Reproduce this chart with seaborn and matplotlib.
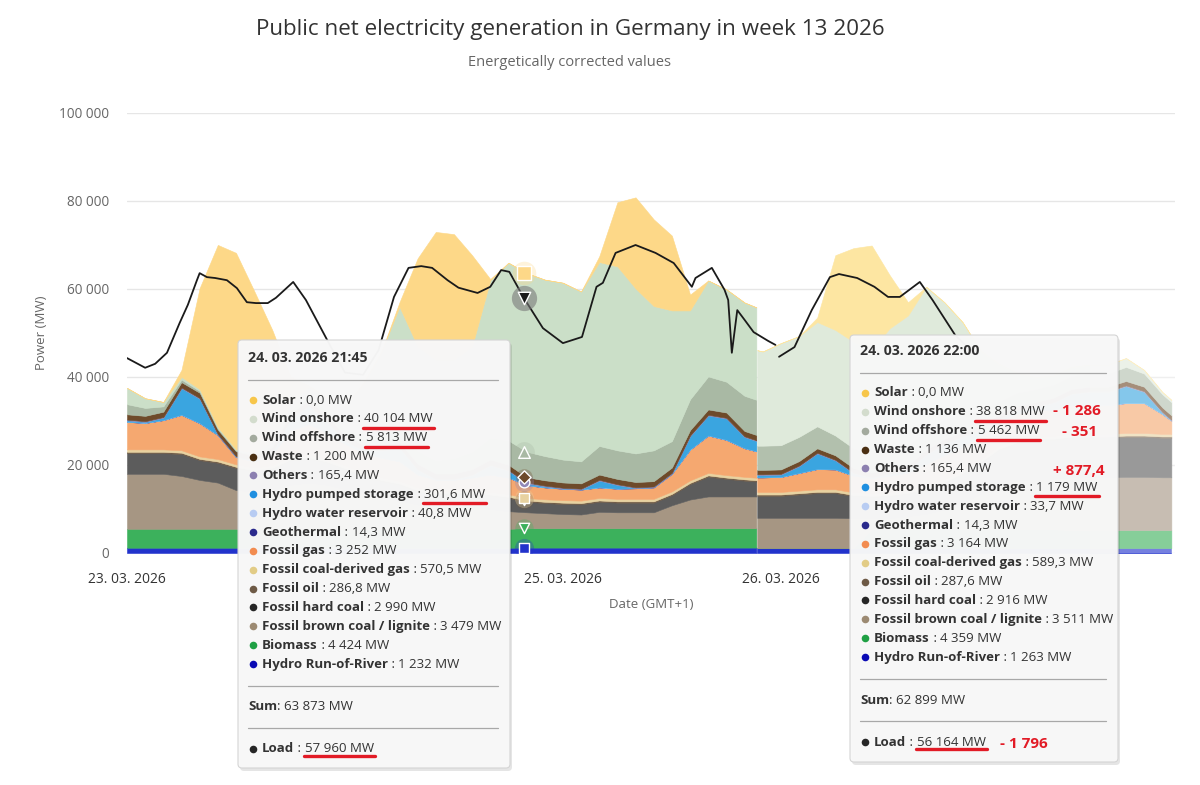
import numpy as np
import pandas as pd
import matplotlib
matplotlib.use("Agg")
import matplotlib.pyplot as plt
import seaborn as sns
from matplotlib.patches import FancyBboxPatch
from matplotlib.ticker import FuncFormatter

# Public net electricity generation in Germany, week 13 2026
# values in MW, hours counted from 23.03. 00:00
# the picture is two screenshots glued together -> part A and part B

##### part A (left screenshot)
hours_a = [0, 2, 4, 6, 8, 10, 12, 14, 16, 18, 20, 22, 24, 26, 28, 30, 32, 34,
           36, 38, 40, 42, 44, 46, 48, 50, 52, 54, 56, 58, 60, 62, 64, 66, 68, 69.3]
ror_a = [1200, 1200, 1200, 1200, 1200, 1200, 1200, 1200, 1200, 1200, 1200, 1200,
         1200, 1200, 1200, 1200, 1200, 1200, 1200, 1200, 1200, 1200, 1230, 1230,
         1230, 1230, 1230, 1230, 1230, 1230, 1230, 1230, 1230, 1230, 1230, 1230]
bio_a = [4300, 4300, 4300, 4300, 4300, 4300, 4300, 4300, 4300, 4300, 4300, 4300,
         4300, 4300, 4300, 4300, 4300, 4300, 4300, 4300, 4300, 4300, 4420, 4420,
         4420, 4420, 4420, 4420, 4420, 4420, 4420, 4420, 4420, 4420, 4420, 4420]
lig_a = [12500, 12500, 12500, 12000, 11100, 10500, 8800, 8500, 8800, 10000, 10500, 10000,
         9000, 8000, 7000, 6500, 5500, 5000, 5000, 5000, 4500, 4000, 3600, 3400,
         3200, 3100, 3700, 3600, 3600, 3600, 5200, 6500, 7200, 7200, 7200, 7200]
hc_a = [4700, 4700, 4700, 5000, 4500, 4500, 5000, 4500, 4800, 5500, 5500, 5000,
        4500, 4000, 3800, 3500, 3000, 2800, 2800, 2800, 3000, 3000, 2400, 2300,
        2300, 2300, 2300, 2200, 2200, 2200, 2300, 3500, 4500, 4000, 3600, 3400]
oil_a = [290, 290, 290, 290, 290, 290, 290, 290, 290, 290, 290, 290,
         290, 290, 290, 290, 290, 290, 290, 290, 290, 290, 287, 287,
         287, 287, 287, 287, 287, 287, 287, 287, 287, 287, 287, 287]
cgas_a = [560, 560, 560, 560, 560, 560, 560, 560, 560, 560, 560, 560,
          560, 560, 560, 560, 560, 560, 560, 560, 560, 560, 570, 570,
          570, 570, 570, 570, 570, 570, 570, 570, 570, 570, 570, 570]
gas_a = [6250, 6000, 6650, 8050, 7550, 5450, 1650, 1500, 2500, 6000, 7000, 6000,
         5000, 4500, 4500, 4500, 3000, 2500, 2500, 3000, 4000, 3800, 2900, 2700,
         2600, 2500, 2400, 2300, 2400, 2600, 4000, 7000, 8500, 8000, 6500, 6000]
geo_a = [14, 14, 14, 14, 14, 14, 14, 14, 14, 14, 14, 14,
         14, 14, 14, 14, 14, 14, 14, 14, 14, 14, 14, 14,
         14, 14, 14, 14, 14, 14, 14, 14, 14, 14, 14, 14]
res_a = [40, 40, 40, 40, 40, 40, 40, 40, 40, 40, 40, 40,
         40, 40, 40, 40, 40, 40, 40, 40, 40, 40, 41, 41,
         41, 41, 41, 41, 41, 41, 41, 41, 41, 41, 41, 41]
ps_a = [300, 200, 500, 6000, 5500, 0, 0, 0, 300, 2500, 4000, 2500,
        500, 300, 1500, 3000, 1000, 0, 0, 500, 2000, 1500, 400, 200,
        0, 0, 1500, 800, 0, 0, 0, 3000, 4500, 4800, 2500, 2300]
oth_a = [165, 165, 165, 165, 165, 165, 165, 165, 165, 165, 165, 165,
         165, 165, 165, 165, 165, 165, 165, 165, 165, 165, 165, 165,
         165, 165, 165, 165, 165, 165, 165, 165, 165, 165, 165, 165]
waste_a = [1200, 1200, 1200, 1200, 1200, 1000, 1100, 1100, 1100, 1200, 1200, 1200,
           1200, 1200, 1200, 1200, 1200, 1200, 1200, 1200, 1200, 1200, 1200, 1200,
           1200, 1200, 1200, 1200, 1200, 1200, 1200, 1200, 1200, 1200, 1200, 1200]
off_a = [2300, 1800, 1200, 600, 400, 300, 200, 300, 500, 800, 1000, 1200,
         1500, 2000, 2500, 3000, 3000, 3000, 3500, 4000, 5000, 5500, 5800, 5500,
         5200, 5000, 6500, 6500, 6500, 7000, 6000, 7000, 7500, 7000, 8000, 8000]
on_a = [3700, 2200, 1000, 600, 400, 300, 200, 400, 800, 1500, 2000, 3000,
        5000, 12000, 18600, 27700, 23700, 22900, 22400, 23900, 35700, 40400, 40600, 40100,
        40200, 38600, 41800, 41800, 37500, 32800, 29700, 20200, 21800, 21000, 21200, 21000]
solar_a = [0, 0, 0, 1600, 23000, 41400, 44700, 36700, 25300, 6000, 300, 0,
           0, 0, 0, 1000, 20000, 29000, 28500, 20700, 300, 0, 0, 0,
           0, 0, 1300, 14600, 20700, 19700, 17000, 3600, 0, 0, 0, 0]

##### part B (second screenshot, pasted in from 25.03. evening)
hours_b = [69.4, 70, 72, 74, 76, 78, 80, 82, 84, 86, 88, 90, 92,
           94, 96, 98, 100, 102, 104, 106, 108, 110, 112, 114, 115]
ror_b = [1100, 1100, 1100, 1100, 1100, 1100, 1100, 1100, 1100, 1100, 1100, 1100, 1100,
         1100, 1100, 1100, 1100, 1100, 1100, 1100, 1100, 1100, 1100, 1100, 1100]
bio_b = [0, 0, 0, 0, 0, 0, 0, 4300, 4300, 4300, 4300, 4300, 4300,
         4300, 4300, 4300, 4300, 4300, 4100, 4100, 4100, 4100, 4100, 4100, 4100]
lig_b = [6900, 6900, 6900, 6900, 6900, 6900, 6800, 2500, 2500, 3000, 3500, 4500, 6000,
         8000, 10000, 11000, 11500, 11500, 12000, 12000, 12000, 12100, 12100, 12000, 12000]
hc_b = [5000, 5000, 5000, 5300, 5600, 5600, 5000, 4800, 5000, 5000, 5500, 6000, 6500,
        7000, 8000, 8500, 8800, 8800, 9000, 9000, 9000, 9100, 9100, 9000, 9000]
oil_b = [288, 288, 288, 288, 288, 288, 288, 288, 288, 288, 288, 288, 288,
         288, 288, 288, 288, 288, 288, 288, 288, 288, 288, 288, 288]
cgas_b = [589, 589, 589, 589, 589, 589, 589, 589, 589, 589, 589, 589, 589,
          589, 589, 589, 589, 589, 589, 589, 589, 589, 589, 589, 589]
gas_b = [3300, 3300, 3400, 4000, 4600, 4500, 3800, 3500, 3800, 4000, 5000, 5500, 5500,
         5500, 5500, 6000, 6000, 6000, 6500, 6500, 6500, 6800, 6800, 4500, 3000]
geo_b = [14, 14, 14, 14, 14, 14, 14, 14, 14, 14, 14, 14, 14,
         14, 14, 14, 14, 14, 14, 14, 14, 14, 14, 14, 14]
res_b = [34, 34, 34, 34, 34, 34, 34, 34, 34, 34, 34, 34, 34,
         34, 34, 34, 34, 34, 34, 34, 34, 34, 34, 34, 34]
ps_b = [500, 500, 500, 1500, 3500, 2000, 500, 0, 300, 500, 2000, 2500, 2000,
        1000, 500, 500, 500, 1500, 2500, 3000, 3000, 3800, 2500, 300, 0]
oth_b = [165, 165, 165, 165, 165, 165, 165, 165, 165, 165, 165, 165, 165,
         165, 165, 165, 165, 165, 165, 165, 165, 165, 165, 165, 165]
waste_b = [1000, 1000, 1000, 1000, 1000, 1000, 1000, 1000, 1000, 1000, 1000, 1000, 1000,
           1000, 1000, 1000, 1000, 1000, 1000, 1000, 1000, 1000, 1000, 1000, 1000]
off_b = [5500, 5500, 5500, 5500, 5000, 4500, 4500, 4500, 4500, 4500, 4500, 4500, 4000,
         3500, 3000, 3000, 3000, 3000, 3000, 3000, 3000, 3200, 3000, 3000, 3000]
on_b = [21700, 21400, 23200, 22900, 23700, 24000, 24200, 23500, 27500, 29500, 32500, 26500, 21000,
        13500, 8500, 4500, 2700, 2000, 2000, 2000, 2000, 2000, 800, 500, 500]
solar_b = [0, 0, 0, 0, 1000, 17000, 21300, 23600, 12000, 3000, 0, 0, 0,
           0, 0, 0, 0, 0, 0, 0, 0, 0, 0, 0, 0]

##### load (two pieces, there is a gap in the picture)
load_hours_a = [0, 2, 3.1, 4.4, 5.8, 6.7, 7.7, 8.0, 8.8, 9.7, 11.0, 12.1, 13.2, 14.2,
                15.5, 16.4, 18.3, 19.7, 22.2, 24, 26, 27.7, 29.4, 31.0, 32.4, 33.6,
                35.3, 36.5, 38.6, 40.0, 41.2, 42.1, 43.7, 45.8, 48.0, 50.1, 51.7,
                52.4, 53.8, 56.0, 58.2, 60.2, 62.2, 62.6, 64.4, 65.8, 66.2, 66.6,
                67.2, 68.0, 69.0, 70.6, 71.4]
load_mw_a = [44300, 42100, 43000, 45500, 52300, 56400, 62000, 63600, 62700, 62500,
             62000, 60200, 57000, 56800, 56800, 58000, 61600, 57500, 47800, 41000,
             40500, 46100, 58200, 64800, 65200, 64800, 62000, 60300, 59100, 60500,
             64300, 63900, 57960, 51100, 47700, 49100, 60500, 61400, 68200, 70000,
             68200, 65900, 60500, 62500, 64800, 59800, 57500, 45500, 55200, 53000,
             50200, 48200, 47300]
load_hours_b = [71.8, 73.5, 75.4, 77.4, 78.4, 80.4, 82.3, 83.8, 85.1, 87.3, 88.7, 91.2, 93.4]
load_mw_b = [44600, 46800, 55200, 62700, 63400, 62500, 60500, 58200, 58200, 61600,
             57500, 49500, 45000]

##### tooltip texts
names = ["Solar", "Wind onshore", "Wind offshore", "Waste", "Others",
         "Hydro pumped storage", "Hydro water reservoir", "Geothermal", "Fossil gas",
         "Fossil coal-derived gas", "Fossil oil", "Fossil hard coal",
         "Fossil brown coal / lignite", "Biomass", "Hydro Run-of-River"]
tip1_values = ["0,0 MW", "40 104 MW", "5 813 MW", "1 200 MW", "165,4 MW", "301,6 MW",
               "40,8 MW", "14,3 MW", "3 252 MW", "570,5 MW", "286,8 MW", "2 990 MW",
               "3 479 MW", "4 424 MW", "1 232 MW"]
tip2_values = ["0,0 MW", "38 818 MW", "5 462 MW", "1 136 MW", "165,4 MW", "1 179 MW",
               "33,7 MW", "14,3 MW", "3 164 MW", "589,3 MW", "287,6 MW", "2 916 MW",
               "3 511 MW", "4 359 MW", "1 263 MW"]
tip1_title, tip1_sum, tip1_load = "24. 03. 2026 21:45", "63 873 MW", "57 960 MW"
tip2_title, tip2_sum, tip2_load = "24. 03. 2026 22:00", "62 899 MW", "56 164 MW"
tip2_deltas = ["- 1 286", "- 351", "+ 877,4"]
tip2_load_delta = "- 1 796"

# only the date labels that are not hidden behind the tooltips
day_ticks = [0, 48, 72]
day_labels = ["23. 03. 2026", "25. 03. 2026", "26. 03. 2026"]

colors = {
    "Solar": "#fdd888", "Wind onshore": "#cbdfc8", "Wind offshore": "#a9b9a4",
    "Waste": "#6e4a2a", "Others": "#9088b8", "Hydro pumped storage": "#3aa5e0",
    "Hydro water reservoir": "#b4cdf0", "Geothermal": "#2d2d96", "Fossil gas": "#f5a870",
    "Fossil coal-derived gas": "#e8d2a0", "Fossil oil": "#6e5a46",
    "Fossil hard coal": "#5c5c5c", "Fossil brown coal / lignite": "#a69683",
    "Biomass": "#3cb15c", "Hydro Run-of-River": "#2233cc"}
# second screenshot: wind and solar drawn paler
colors_b = dict(colors)
colors_b.update({"Solar": "#fde6a2", "Wind onshore": "#dfeadb", "Wind offshore": "#b2c0ad"})
dot_colors = {
    "Solar": "#f7c64a", "Wind onshore": "#d3dccd", "Wind offshore": "#a3aa9e",
    "Waste": "#4a2f12", "Others": "#8c80b0", "Hydro pumped storage": "#1f8fe0",
    "Hydro water reservoir": "#b8ccf2", "Geothermal": "#2a2a8c", "Fossil gas": "#f28c50",
    "Fossil coal-derived gas": "#e2cc86", "Fossil oil": "#6e5a46",
    "Fossil hard coal": "#262626", "Fossil brown coal / lignite": "#9c8a72",
    "Biomass": "#1fa044", "Hydro Run-of-River": "#0a0ab4"}

stack_a = dict(zip(names, [solar_a, on_a, off_a, waste_a, oth_a, ps_a, res_a, geo_a, gas_a,
                           cgas_a, oil_a, hc_a, lig_a, bio_a, ror_a]))
stack_b = dict(zip(names, [solar_b, on_b, off_b, waste_b, oth_b, ps_b, res_b, geo_b, gas_b,
                           cgas_b, oil_b, hc_b, lig_b, bio_b, ror_b]))
order = names[::-1]  # bottom -> top

sns.set_theme(style="white")
plt.rcParams['font.family'] = ['Open Sans', 'DejaVu Sans']

W, H = 1200, 785
fig = plt.figure(figsize=(W / 100, H / 100), dpi=100)
ax = fig.add_axes([127 / W, 232 / H, 1048 / W, 440 / H])

for hrs, stack, cols in [(hours_a, stack_a, colors), (hours_b, stack_b, colors_b)]:
    polys = ax.stackplot(hrs, *[stack[n] for n in order],
                         colors=[cols[n] for n in order], zorder=2)
    for p, n in zip(polys, order):
        p.set_edgecolor(cols[n])
        p.set_linewidth(0.4)
# right end of the picture is faded (inactive series)
ax.axvspan(106, 116, ymax=0.47, color='white', alpha=0.38, lw=0, zorder=3)

load = pd.concat([
    pd.DataFrame({'hour': load_hours_a, 'mw': load_mw_a, 'part': 'a'}),
    pd.DataFrame({'hour': load_hours_b, 'mw': load_mw_b, 'part': 'b'})])
sns.lineplot(data=load, x='hour', y='mw', units='part', estimator=None, sort=False,
             color='#1a1a1a', lw=1.3, ax=ax, zorder=4)

# hover markers of the first tooltip
i = hours_a.index(44)
hx = 43.7
cum = dict(zip(order, np.cumsum([stack_a[n][i] for n in order])))
for n, m, s in [("Hydro Run-of-River", "s", 60), ("Biomass", "v", 55), ("Fossil oil", "v", 55),
                ("Fossil coal-derived gas", "s", 60), ("Others", "o", 60),
                ("Waste", "D", 45), ("Wind offshore", "^", 70), ("Solar", "s", 90)]:
    ax.scatter(hx, cum[n], s=s * 3.2, color=colors[n], alpha=0.3, lw=0, zorder=5)
    ax.scatter(hx, cum[n], s=s, marker=m, color=colors[n], edgecolor='white', lw=1, zorder=6)
lx = load_hours_a.index(43.7)
ax.scatter(hx, load_mw_a[lx], s=330, color='#7a7a7a', alpha=0.6, lw=0, zorder=5)
ax.scatter(hx, load_mw_a[lx], s=80, marker='v', color='#1a1a1a', edgecolor='white', lw=1, zorder=6)

ax.set_xlim(0, 115.4)
ax.set_ylim(0, 100000)
ax.set_yticks([0, 20000, 40000, 60000, 80000, 100000])
ax.yaxis.set_major_formatter(FuncFormatter(lambda v, p: f"{int(v):,}".replace(",", " ")))
ax.set_xticks(day_ticks)
ax.set_xticklabels(day_labels)
ax.tick_params(axis='y', length=0, pad=13, labelsize=9.8, labelcolor='#666666')
ax.tick_params(axis='x', length=0, pad=14, labelsize=10, labelcolor='#333333')
ax.grid(axis='y', color='#e6e6e6', lw=1, zorder=0)
ax.set_axisbelow(True)
for s in ax.spines.values():
    s.set_visible(False)
ax.set_xlabel("Date (GMT+1)", fontsize=9.5, color='#666666')
ax.set_ylabel("Power (MW)", fontsize=9.5, color='#666666')
ax.xaxis.set_label_coords(0.5, -45 / 440)
ax.yaxis.set_label_coords(-79 / 1048, 0.5)

fig.text(570 / W, 1 - 30 / H, "Public net electricity generation in Germany in week 13 2026",
         ha='center', va='center', fontsize=16.1, color='#333333')
fig.text(570 / W, 1 - 62 / H, "Energetically corrected values",
         ha='center', va='center', fontsize=10.5, color='#666666')

##### tooltips, drawn in pixel coordinates on an overlay
ov = fig.add_axes([0, 0, 1, 1])
ov.set_xlim(0, W)
ov.set_ylim(H, 0)
ov.axis('off')
ov.set_zorder(10)
renderer = fig.canvas.get_renderer()
FS = 9.5
RED = '#e21b26'


def put(x, y, txt, bold=False, size=FS):
    t = ov.text(x, y, txt, fontsize=size, color='#333333', va='center', ha='left',
                weight='bold' if bold else 'normal', zorder=5)
    bb = t.get_window_extent(renderer=renderer)
    return x + bb.width


def underline(x0, x1, y):
    ov.plot([x0 - 1, x1 + 1], [y, y], color=RED, lw=2.4, solid_capstyle='round', zorder=6)


def tooltip(box, top, title, values, sum_txt, load_txt, marked):
    x0, y0, x1, y1 = box
    ov.add_patch(FancyBboxPatch((x0 + 2, y0 + 3), x1 - x0, y1 - y0,
                                boxstyle="round,pad=0,rounding_size=4",
                                fc='black', ec='none', alpha=0.10, zorder=1))
    ov.add_patch(FancyBboxPatch((x0, y0), x1 - x0, y1 - y0,
                                boxstyle="round,pad=0,rounding_size=4",
                                fc='#f8f8f8', ec='#d4d4d4', lw=0.8, alpha=0.98, zorder=2))
    tx = x0 + 10
    put(tx, top, title, bold=True, size=10.2)
    for yy in (top + 22, top + 328, top + 370):
        ov.plot([tx, x1 - 12], [yy, yy], color='#a8a8a8', lw=0.9, zorder=3)
    rows = []
    for k, (n, v) in enumerate(zip(names, values)):
        y = top + 42 + k * 18.86
        ov.scatter(tx + 5, y, s=30, color=dot_colors[n], lw=0, zorder=4)
        xa = put(tx + 14, y, n, bold=True)
        xb = put(xa, y, " : ")
        xc = put(xb, y, v)
        rows.append((xb, xc, y))
    xa = put(tx, top + 349, "Sum", bold=True)
    put(xa, top + 349, ": " + sum_txt)
    yl = top + 391
    ov.scatter(tx + 5, yl, s=30, color='#262626', lw=0, zorder=4)
    xa = put(tx + 14, yl, "Load", bold=True)
    xb = put(xa, yl, " : ")
    xc = put(xb, yl, load_txt)
    for k in marked:
        xb_, xc_, y = rows[k]
        underline(xb_, xc_, y + 9)
    underline(xb, xc, yl + 7)


tooltip((238, 340, 510, 768), 358, tip1_title, tip1_values, tip1_sum, tip1_load, [1, 2, 5])
tooltip((850, 335, 1118, 762), 351, tip2_title, tip2_values, tip2_sum, tip2_load, [1, 2, 5])

for (x, y), txt in zip([(1053, 411), (1062, 432), (1053, 471)], tip2_deltas):
    ov.text(x, y, txt, fontsize=11, weight='bold', color=RED, va='center', zorder=6)
ov.text(1000, 744, tip2_load_delta, fontsize=11, weight='bold', color=RED, va='center', zorder=6)

fig.savefig('out.png', dpi=100)
